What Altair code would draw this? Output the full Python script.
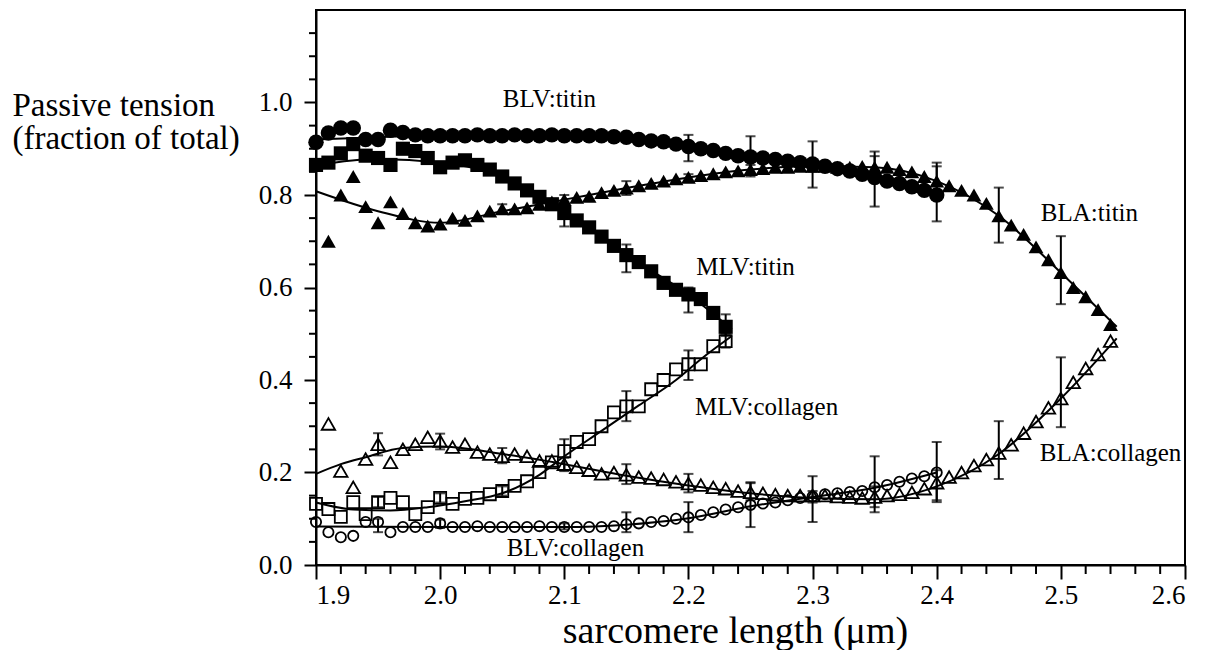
import altair as alt
import pandas as pd

FONT = "Liberation Serif"

# ---------------- data ----------------
blv_titin_x = [1.90, 1.91, 1.92, 1.93, 1.94, 1.95, 1.96, 1.97, 1.98, 1.99, 2.00,
               2.01, 2.02, 2.03, 2.04, 2.05, 2.06, 2.07, 2.08, 2.09, 2.10,
               2.11, 2.12, 2.13, 2.14, 2.15, 2.16, 2.17, 2.18, 2.19, 2.20,
               2.21, 2.22, 2.23, 2.24, 2.25, 2.26, 2.27, 2.28, 2.29, 2.30,
               2.31, 2.32, 2.33, 2.34, 2.35, 2.36, 2.37, 2.38, 2.39, 2.40]
blv_titin_y = [0.914, 0.934, 0.945, 0.945, 0.92, 0.92, 0.94, 0.935, 0.93, 0.928, 0.928,
               0.928, 0.928, 0.93, 0.928, 0.928, 0.93, 0.928, 0.928, 0.93, 0.928,
               0.928, 0.928, 0.928, 0.926, 0.925, 0.92, 0.917, 0.915, 0.91, 0.905,
               0.90, 0.896, 0.89, 0.885, 0.882, 0.88, 0.877, 0.873, 0.87, 0.867,
               0.862, 0.857, 0.852, 0.845, 0.838, 0.83, 0.825, 0.818, 0.81, 0.80]
blv_titin_fit_x = [1.90, 1.95, 2.00, 2.05, 2.10, 2.15, 2.20, 2.25, 2.30, 2.35, 2.40]
blv_titin_fit_y = [0.92, 0.925, 0.928, 0.928, 0.928, 0.925, 0.905, 0.882, 0.867, 0.838, 0.80]

mlv_titin_x = [1.90, 1.91, 1.92, 1.93, 1.94, 1.95, 1.96, 1.97, 1.98, 1.99, 2.00,
               2.01, 2.02, 2.03, 2.04, 2.05, 2.06, 2.07, 2.08, 2.09, 2.10,
               2.11, 2.12, 2.13, 2.14, 2.15, 2.16, 2.17, 2.18, 2.19, 2.20,
               2.21, 2.22, 2.23]
mlv_titin_y = [0.865, 0.87, 0.89, 0.91, 0.885, 0.88, 0.865, 0.90, 0.895, 0.88, 0.86,
               0.87, 0.875, 0.865, 0.855, 0.84, 0.825, 0.81, 0.796, 0.78, 0.761,
               0.745, 0.73, 0.71, 0.69, 0.67, 0.655, 0.635, 0.61, 0.595, 0.585,
               0.575, 0.545, 0.515]
mlv_titin_fit_x = [1.90, 1.95, 2.00, 2.05, 2.10, 2.15, 2.20, 2.235]
mlv_titin_fit_y = [0.865, 0.878, 0.87, 0.84, 0.765, 0.67, 0.585, 0.51]

bla_titin_x = [1.91, 1.92, 1.93, 1.94, 1.95, 1.96, 1.97, 1.98, 1.99, 2.00,
               2.01, 2.02, 2.03, 2.04, 2.05, 2.06, 2.07, 2.08, 2.09, 2.10,
               2.11, 2.12, 2.13, 2.14, 2.15, 2.16, 2.17, 2.18, 2.19, 2.20,
               2.21, 2.22, 2.23, 2.24, 2.25, 2.26, 2.27, 2.28, 2.29, 2.30,
               2.31, 2.32, 2.33, 2.34, 2.35, 2.36, 2.37, 2.38, 2.39, 2.40,
               2.41, 2.42, 2.43, 2.44, 2.45, 2.46, 2.47, 2.48, 2.49, 2.50,
               2.51, 2.52, 2.53, 2.54]
bla_titin_y = [0.70, 0.80, 0.84, 0.775, 0.74, 0.785, 0.76, 0.74, 0.733, 0.737,
               0.75, 0.745, 0.755, 0.765, 0.77, 0.77, 0.772, 0.78, 0.785, 0.79,
               0.795, 0.797, 0.805, 0.81, 0.815, 0.82, 0.825, 0.83, 0.835, 0.838,
               0.842, 0.846, 0.85, 0.852, 0.855, 0.857, 0.86, 0.86, 0.862, 0.862,
               0.862, 0.86, 0.86, 0.862, 0.86, 0.86, 0.855, 0.85, 0.84, 0.83,
               0.82, 0.81, 0.80, 0.782, 0.755, 0.735, 0.715, 0.688, 0.66, 0.632,
               0.60, 0.58, 0.552, 0.52]
bla_titin_fit_x = [1.90, 1.95, 2.00, 2.05, 2.10, 2.15, 2.20, 2.25, 2.30, 2.35,
                   2.40, 2.45, 2.50, 2.545]
bla_titin_fit_y = [0.808, 0.765, 0.74, 0.765, 0.79, 0.815, 0.838, 0.855, 0.862, 0.86,
                   0.83, 0.755, 0.632, 0.515]

mlv_coll_x = mlv_titin_x
mlv_coll_y = [0.132, 0.121, 0.104, 0.136, 0.11, 0.136, 0.145, 0.136, 0.11, 0.125, 0.145,
              0.132, 0.143, 0.145, 0.153, 0.16, 0.171, 0.181, 0.201, 0.222, 0.246,
              0.266, 0.272, 0.30, 0.33, 0.343, 0.343, 0.38, 0.40, 0.423, 0.434,
              0.434, 0.473, 0.484]
mlv_coll_fit_x = [1.90, 1.93, 1.96, 1.99, 2.02, 2.05, 2.08, 2.10, 2.13, 2.16, 2.19, 2.21, 2.235]
mlv_coll_fit_y = [0.135, 0.12, 0.118, 0.125, 0.138, 0.155, 0.195, 0.235, 0.29, 0.345, 0.40, 0.445, 0.495]

bla_coll_x = bla_titin_x
bla_coll_y = [0.305, 0.203, 0.168, 0.229, 0.261, 0.222, 0.25, 0.261, 0.276, 0.268,
              0.255, 0.261, 0.244, 0.24, 0.235, 0.24, 0.235, 0.225, 0.225, 0.218,
              0.211, 0.205, 0.197, 0.20, 0.195, 0.19, 0.188, 0.185, 0.18, 0.176,
              0.173, 0.168, 0.165, 0.16, 0.157, 0.155, 0.152, 0.15, 0.15, 0.15,
              0.15, 0.148, 0.147, 0.145, 0.147, 0.15, 0.153, 0.157, 0.165, 0.178,
              0.19, 0.20, 0.215, 0.228, 0.242, 0.26, 0.285, 0.31, 0.34, 0.36,
              0.395, 0.425, 0.455, 0.484]
bla_coll_fit_x = [1.90, 1.92, 1.94, 1.97, 2.00, 2.05, 2.10, 2.15, 2.20, 2.25, 2.30,
                  2.35, 2.40, 2.45, 2.50, 2.545]
bla_coll_fit_y = [0.197, 0.218, 0.233, 0.253, 0.256, 0.24, 0.218, 0.193, 0.172, 0.155, 0.145,
                  0.142, 0.17, 0.24, 0.36, 0.49]

blv_coll_x = blv_titin_x
blv_coll_y = [0.093, 0.071, 0.06, 0.063, 0.093, 0.093, 0.071, 0.082, 0.082, 0.082, 0.09,
              0.082, 0.082, 0.084, 0.082, 0.082, 0.082, 0.082, 0.084, 0.082, 0.082,
              0.082, 0.082, 0.082, 0.084, 0.088, 0.09, 0.093, 0.095, 0.10, 0.103,
              0.108, 0.114, 0.12, 0.125, 0.13, 0.133, 0.135, 0.14, 0.145, 0.148,
              0.153, 0.155, 0.158, 0.16, 0.168, 0.173, 0.18, 0.187, 0.192, 0.20]
blv_coll_fit_x = [1.90, 2.00, 2.10, 2.15, 2.20, 2.25, 2.30, 2.35, 2.40]
blv_coll_fit_y = [0.083, 0.082, 0.082, 0.087, 0.101, 0.127, 0.147, 0.167, 0.20]

# error bars: x, low, high
err_x = [2.20, 2.25, 2.30, 2.35, 2.40,
         1.95, 2.00, 2.05, 2.10, 2.15, 2.20, 2.23,
         2.05, 2.10, 2.15, 2.20, 2.25, 2.30, 2.35, 2.40, 2.45, 2.50,
         1.95, 2.00, 2.05, 2.10, 2.15, 2.20, 2.23,
         1.95, 2.00, 2.05, 2.10, 2.15, 2.20, 2.25, 2.30, 2.35, 2.40, 2.45, 2.50,
         1.95, 2.00, 2.10, 2.15, 2.20, 2.25, 2.30, 2.35, 2.40]
err_lo = [0.873, 0.84, 0.816, 0.775, 0.743,
          0.87, 0.85, 0.83, 0.732, 0.633, 0.546, 0.495,
          0.76, 0.78, 0.80, 0.83, 0.845, 0.85, 0.84, 0.80, 0.697, 0.564,
          0.125, 0.135, 0.15, 0.203, 0.311, 0.40, 0.47,
          0.237, 0.25, 0.22, 0.205, 0.175, 0.157, 0.14, 0.135, 0.125, 0.14, 0.186, 0.298,
          0.071, 0.08, 0.077, 0.071, 0.071, 0.082, 0.093, 0.114, 0.136]
err_hi = [0.93, 0.927, 0.916, 0.884, 0.87,
          0.89, 0.87, 0.85, 0.786, 0.693, 0.60, 0.542,
          0.78, 0.80, 0.83, 0.845, 0.865, 0.872, 0.894, 0.862, 0.816, 0.711,
          0.147, 0.155, 0.17, 0.272, 0.376, 0.464, 0.50,
          0.285, 0.284, 0.253, 0.232, 0.218, 0.197, 0.177, 0.16, 0.17, 0.205, 0.311, 0.449,
          0.10, 0.098, 0.09, 0.114, 0.136, 0.179, 0.192, 0.235, 0.266]

label_text = ["BLV:titin", "MLV:titin", "BLA:titin", "MLV:collagen", "BLA:collagen", "BLV:collagen"]
label_x = [2.088, 2.246, 2.523, 2.263, 2.540, 2.109]
label_y = [1.008, 0.644, 0.761, 0.342, 0.242, 0.037]

x_major = [1.9, 2.0, 2.1, 2.2, 2.3, 2.4, 2.5, 2.6]
x_minor = [1.92, 1.94, 1.96, 1.98, 2.02, 2.04, 2.06, 2.08, 2.12, 2.14, 2.16, 2.18,
           2.22, 2.24, 2.26, 2.28, 2.32, 2.34, 2.36, 2.38, 2.42, 2.44, 2.46, 2.48,
           2.52, 2.54, 2.56, 2.58]
y_major = [0.0, 0.2, 0.4, 0.6, 0.8, 1.0]
y_minor = [0.05, 0.1, 0.15, 0.25, 0.3, 0.35, 0.45, 0.5, 0.55, 0.65, 0.7, 0.75,
           0.85, 0.9, 0.95, 1.05, 1.1, 1.15]

W, H = 869, 555

xs = alt.Scale(domain=[1.9, 2.6], nice=False, zero=False)
ys = alt.Scale(domain=[0, 1.2], nice=False, zero=True)

X_AXIS = alt.Axis(values=x_major, format=".1f", tickSize=14, tickWidth=2,
                  labelFontSize=27, labelPadding=3, labelFont=FONT,
                  domainWidth=2, grid=False, labelColor="black", tickColor="black",
                  domainColor="black",
                  title="sarcomere length (\u03bcm)", titleFont=FONT, titleFontSize=38,
                  titleFontWeight="normal", titleColor="black",
                  titleBaseline="alphabetic", titleAlign="center",
                  titleX=419, titleY=77)
Y_AXIS = alt.Axis(values=y_major, format=".1f", tickSize=12, tickWidth=2,
                  labelFontSize=27, labelPadding=12, labelFont=FONT,
                  domainWidth=2, grid=False, labelColor="black", tickColor="black",
                  domainColor="black",
                  title=["Passive tension", "(fraction of total)"], titleFont=FONT,
                  titleFontSize=33, titleFontWeight="normal", titleColor="black",
                  titleAngle=0, titleAlign="left", titleBaseline="alphabetic",
                  titleX=-304, titleY=105, titleLineHeight=33)


def df_xy(xv, yv):
    return pd.DataFrame({"x": xv, "y": yv})


def xenc(field="x:Q"):
    return alt.X(field, scale=xs, axis=X_AXIS)


def yenc(field="y:Q"):
    return alt.Y(field, scale=ys, axis=Y_AXIS)


layers = []

# fitted lines
fits = [(blv_titin_fit_x, blv_titin_fit_y), (mlv_titin_fit_x, mlv_titin_fit_y),
        (bla_titin_fit_x, bla_titin_fit_y), (mlv_coll_fit_x, mlv_coll_fit_y),
        (bla_coll_fit_x, bla_coll_fit_y), (blv_coll_fit_x, blv_coll_fit_y)]
for fx, fy in fits:
    layers.append(alt.Chart(df_xy(fx, fy)).mark_line(
        color="black", strokeWidth=2, interpolate="monotone").encode(x=xenc(), y=yenc()))

# markers
series = [
    (blv_titin_x, blv_titin_y, "circle", True, 240),
    (mlv_titin_x, mlv_titin_y, "square", True, 200),
    (bla_titin_x, bla_titin_y, "triangle-up", True, 220),
    (mlv_coll_x, mlv_coll_y, "square", False, 145),
    (bla_coll_x, bla_coll_y, "triangle-up", False, 180),
    (blv_coll_x, blv_coll_y, "circle", False, 105),
]
for sx, sy, shape, filled, size in series:
    layers.append(alt.Chart(df_xy(sx, sy)).mark_point(
        shape=shape, filled=filled, size=size, color="black", opacity=1,
        strokeWidth=1.8).encode(x=xenc(), y=yenc()))

# error bars
err_df = pd.DataFrame({"x": err_x, "lo": err_lo, "hi": err_hi})
layers.append(alt.Chart(err_df).mark_rule(color="black", strokeWidth=2).encode(
    x=xenc(), y=yenc("lo:Q"), y2="hi:Q"))
layers.append(alt.Chart(err_df).mark_tick(color="black", orient="horizontal", size=10,
                                          thickness=2).encode(x=xenc(), y=yenc("lo:Q")))
layers.append(alt.Chart(err_df).mark_tick(color="black", orient="horizontal", size=10,
                                          thickness=2).encode(x=xenc(), y=yenc("hi:Q")))

# minor ticks
layers.append(alt.Chart(pd.DataFrame({"x": x_minor})).mark_rule(
    color="black", strokeWidth=2).encode(x=xenc(), y=alt.value(H), y2=alt.value(H + 9)))
layers.append(alt.Chart(pd.DataFrame({"y": y_minor})).mark_rule(
    color="black", strokeWidth=2).encode(y=yenc(), x=alt.value(0), x2=alt.value(-7)))

# labels
lab_df = pd.DataFrame({"t": label_text, "x": label_x, "y": label_y})
layers.append(alt.Chart(lab_df).mark_text(
    font=FONT, fontSize=25, color="black", align="center", baseline="middle").encode(
    x=xenc(), y=yenc(), text="t:N"))

chart = alt.layer(*layers).properties(
    width=W, height=H,
    background="white",
    autosize=alt.AutoSizeParams(type="none"),
    padding={"left": 308, "top": 2, "right": 20, "bottom": 85},
).configure_view(stroke="black", strokeWidth=2).configure_axis(
    labelFont=FONT, titleFont=FONT
).configure_text(font=FONT)

chart.save("out.html", embed_options={"renderer": "svg", "actions": False})
